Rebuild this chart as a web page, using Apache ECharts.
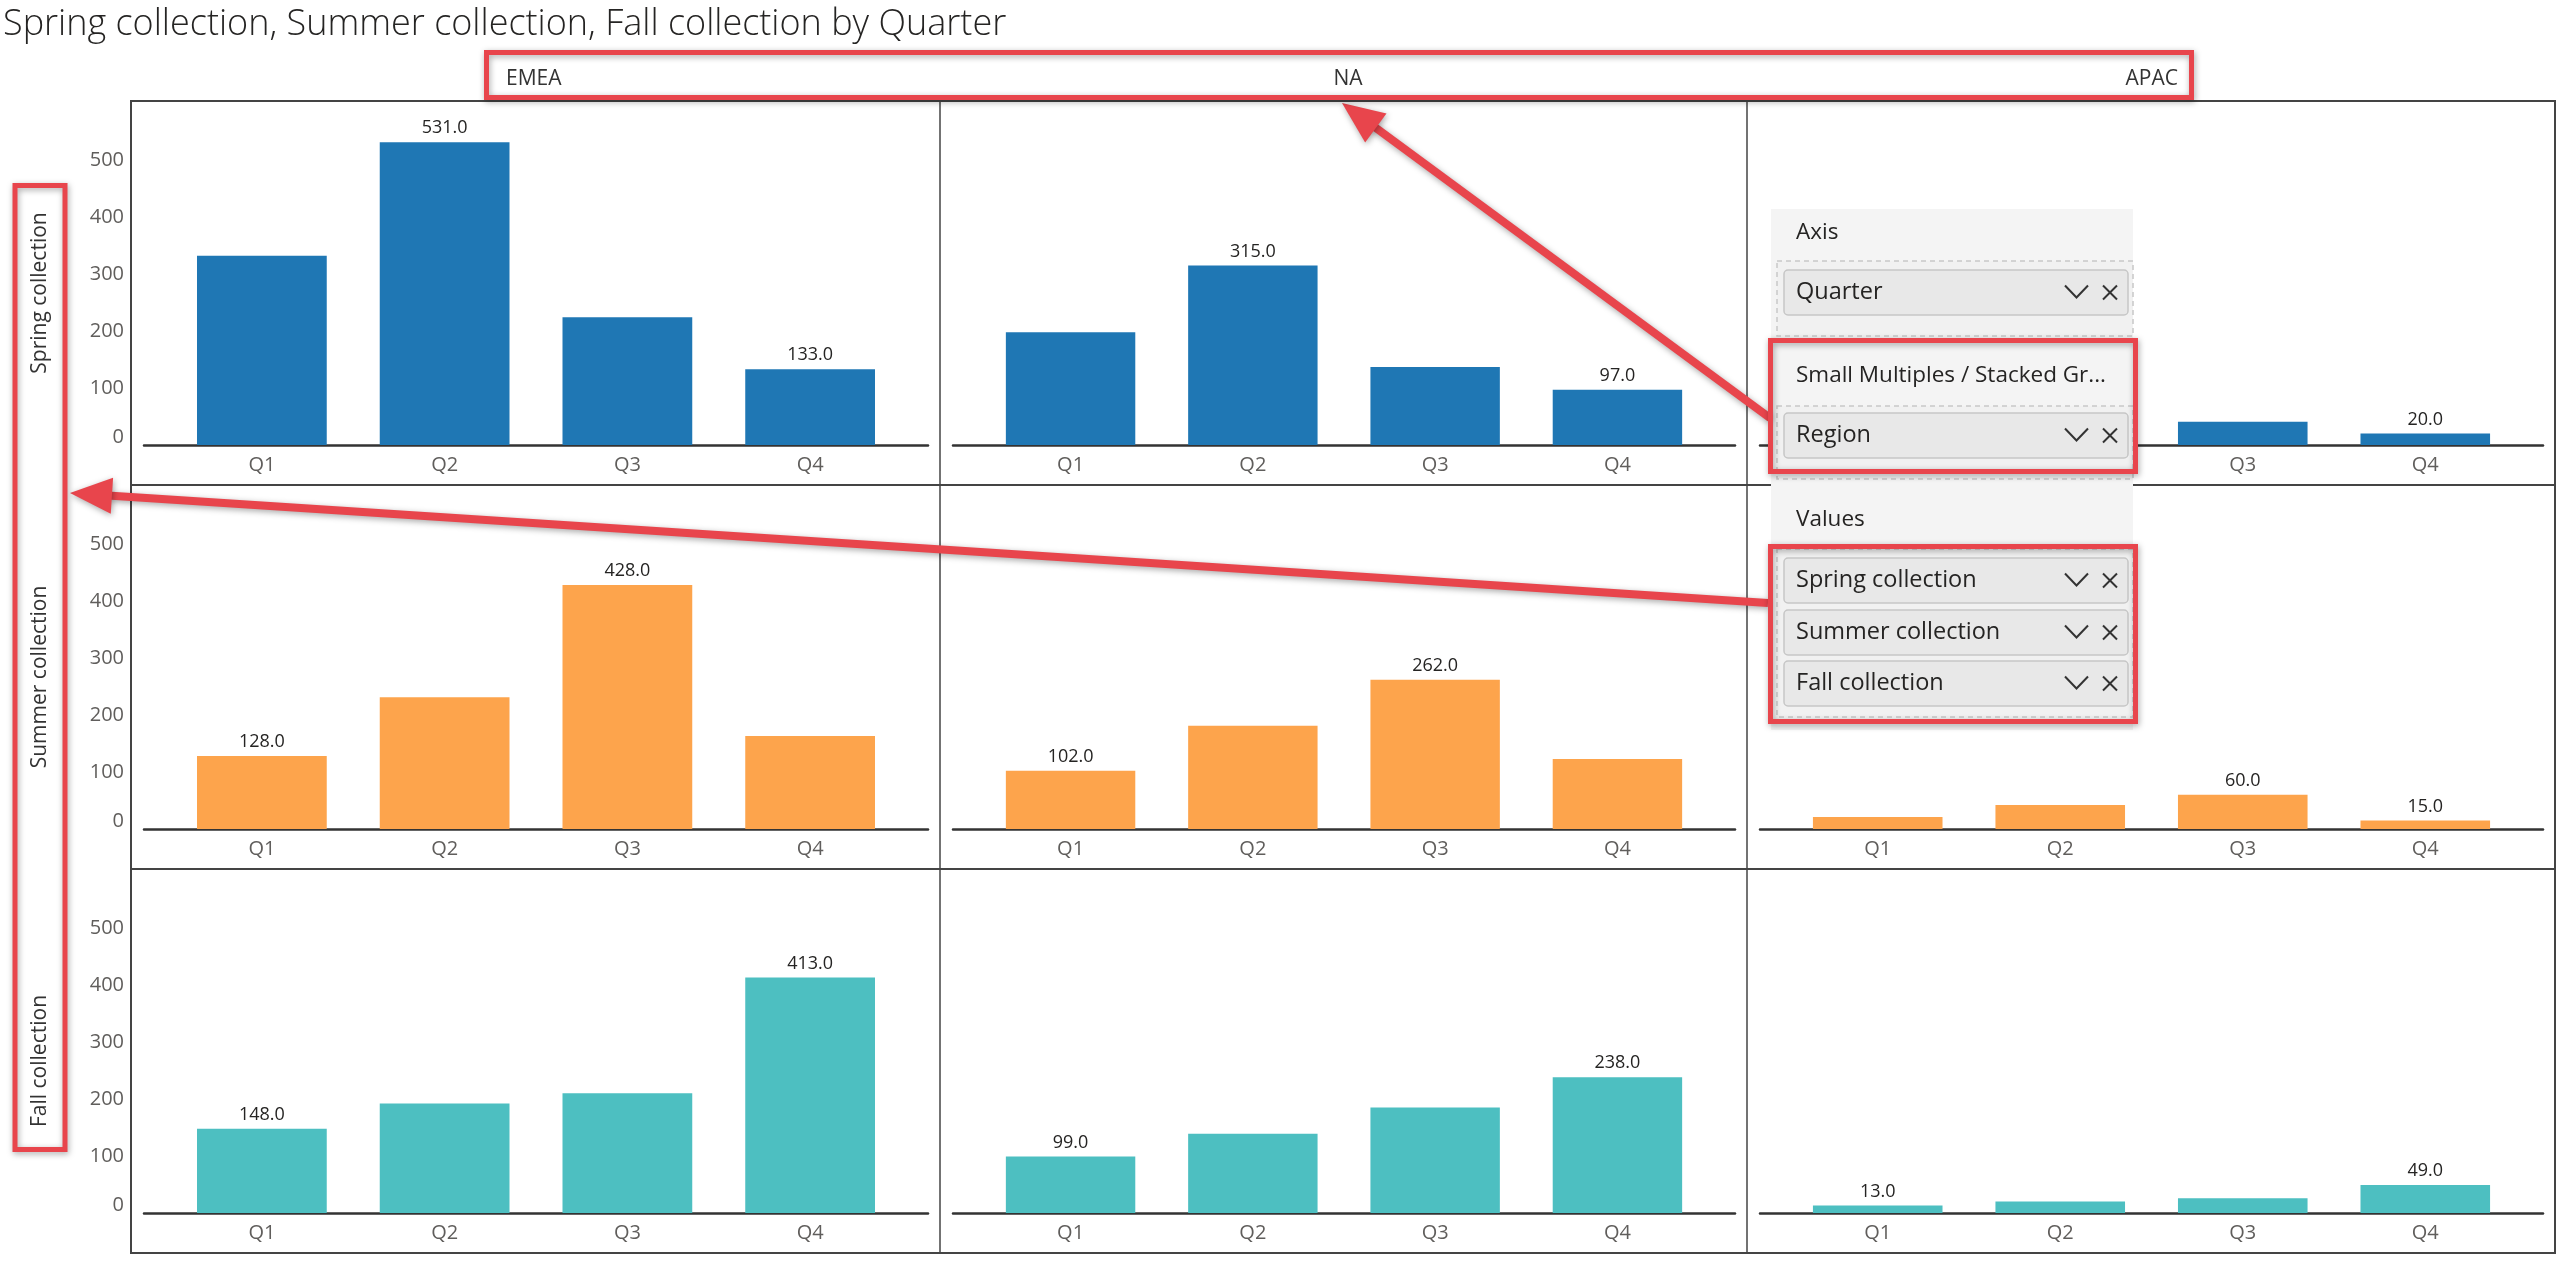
<!DOCTYPE html>
<html><head><meta charset="utf-8">
<script src="https://cdn.jsdelivr.net/npm/echarts@6/dist/echarts.min.js"></script>
<style>html,body{margin:0;padding:0;background:#fff}#c{width:2560px;height:1264px}</style>
</head><body><div id="c"></div>
<script>
// ---------- data ----------
const quarters = ['Q1', 'Q2', 'Q3', 'Q4'];
const regions = ['EMEA', 'NA', 'APAC'];
const collections = ['Spring collection', 'Summer collection', 'Fall collection'];
const yTicks = [0, 100, 200, 300, 400, 500];
const springEMEA = [332, 531, 224, 133];
const springNA = [198, 315, 137, 97];
const springAPAC = [35, 52, 41, 20];
const summerEMEA = [128, 231, 428, 163];
const summerNA = [102, 181, 262, 123];
const summerAPAC = [21, 42, 60, 15];
const fallEMEA = [148, 192, 210, 413];
const fallNA = [99, 139, 185, 238];
const fallAPAC = [13, 20, 26, 49];
const fieldWells = ['Axis', 'Small Multiples / Stacked Gr...', 'Values'];
const wellAxis = ['Quarter'];
const wellSmall = ['Region'];
const wellValues = ['Spring collection', 'Summer collection', 'Fall collection'];
const titleText = 'Spring collection, Summer collection, Fall collection by Quarter';

// ---------- layout / style ----------
const FONT = '"Open Sans", "Noto Sans", sans-serif';
const colors = ['#1f77b4', '#fda44c', '#4dbfc1'];
const RED = '#e8454c';
const colX = [131, 940, 1747, 2555];
const rowY = [101, 485, 869, 1253];
const table = [
  [springEMEA, springNA, springAPAC],
  [summerEMEA, summerNA, summerAPAC],
  [fallEMEA, fallNA, fallAPAC]
];

const grids = [], xAxes = [], yAxes = [], series = [];
let idx = 0;
for (let r = 0; r < 3; r++) {
  for (let c = 0; c < 3; c++) {
    const left = colX[c] + 13;
    const width = colX[c + 1] - colX[c] - 25;
    grids.push({ left: left, top: rowY[r] + 2, width: width, height: 342 });
    xAxes.push({
      type: 'value', gridIndex: idx, min: -0.645, max: 3.645,
      splitLine: { show: false },
      axisTick: { show: false },
      axisLine: { show: true, onZero: false, lineStyle: { color: '#333', width: 2.5 } },
      axisLabel: {
        customValues: [0, 1, 2, 3],
        formatter: v => quarters[Math.round(v)],
        fontFamily: FONT, fontSize: 20, color: '#605e5c', margin: 10
      }
    });
    yAxes.push({
      type: 'value', gridIndex: idx, min: 0, max: 600, interval: 100,
      splitLine: { show: false }, axisLine: { show: false }, axisTick: { show: false },
      axisLabel: {
        show: c === 0, margin: 20,
        formatter: v => (v > yTicks[yTicks.length - 1] ? '' : (v === 0 ? '{z|0}' : String(v))),
        fontFamily: FONT, fontSize: 20, color: '#605e5c',
        rich: { z: { fontFamily: FONT, fontSize: 20, color: '#605e5c', padding: [0, 0, 16, 0] } }
      }
    });
    const vals = table[r][c];
    const mx = Math.max.apply(null, vals), mn = Math.min.apply(null, vals);
    series.push({
      type: 'bar', xAxisIndex: idx, yAxisIndex: idx,
      barWidth: '71%',
      itemStyle: { color: colors[r] },
      label: {
        show: false, position: 'top', distance: 5,
        formatter: p => p.value[1].toFixed(1),
        fontFamily: FONT, fontSize: 18, color: '#252423'
      },
      data: vals.map((v, k) => ({ value: [k, v], label: { show: v === mx || v === mn } }))
    });
    idx++;
  }
}

// ---------- graphic elements ----------
const g = [];
// title
g.push({ type: 'text', x: 3, y: 25, style: { text: titleText, fontFamily: FONT, fontSize: 36, fontWeight: 300, fill: '#252423', align: 'left', verticalAlign: 'middle' } });
// frame
g.push({ type: 'rect', shape: { x: colX[0], y: rowY[0], width: colX[3] - colX[0], height: rowY[3] - rowY[0] }, style: { fill: 'none', stroke: '#444', lineWidth: 2 }, z: 1 });
[colX[1], colX[2]].forEach(x => g.push({ type: 'line', shape: { x1: x, y1: rowY[0], x2: x, y2: rowY[3] }, style: { stroke: '#444', lineWidth: 1.5 }, z: 1 }));
[rowY[1], rowY[2]].forEach(y => g.push({ type: 'line', shape: { x1: colX[0], y1: y, x2: colX[3], y2: y }, style: { stroke: '#444', lineWidth: 2 }, z: 1 }));
// column headers
const hdrX = [506, 1348, 2178], hdrAlign = ['left', 'center', 'right'];
regions.forEach((t, i) => g.push({ type: 'text', x: hdrX[i], y: 79, style: { text: t, fontFamily: FONT, fontSize: 21, fill: '#333', align: hdrAlign[i], verticalAlign: 'middle' } }));
// row labels
collections.forEach((t, i) => g.push({ type: 'text', x: 40, y: (rowY[i] + rowY[i + 1]) / 2, rotation: Math.PI / 2, style: { text: t, fontFamily: FONT, fontSize: 21, fill: '#333', align: 'center', verticalAlign: 'middle' } }));

// field well pane
const Z = 50;
g.push({ type: 'rect', shape: { x: 1771, y: 209, width: 362, height: 521 }, style: { fill: '#f4f4f4' }, z: Z });
[[261, 75], [406, 73], [549, 168]].forEach(w => g.push({ type: 'rect', shape: { x: 1777, y: w[0], width: 356, height: w[1] }, style: { fill: '#f1f1f1', stroke: '#c8c8c8', lineWidth: 1.5, lineDash: [5, 4] }, z: Z + 1 }));
const headY = [233, 376, 520];
fieldWells.forEach((t, i) => g.push({ type: 'text', x: 1796, y: headY[i], style: { text: t, fontFamily: FONT, fontSize: 22.5, fill: '#252423', align: 'left', verticalAlign: 'middle' }, z: Z + 2 }));
const pillItems = wellAxis.concat(wellSmall, wellValues);
const pillTop = [270, 413, 558, 610, 661];
pillItems.forEach((t, i) => {
  const y = pillTop[i], cy = y + 22.5;
  g.push({ type: 'rect', shape: { x: 1784, y: y, width: 344, height: 45, r: 4 }, style: { fill: '#e8e8e8', stroke: '#c6c6c6', lineWidth: 1.5 }, z: Z + 2 });
  g.push({ type: 'text', x: 1796, y: cy, style: { text: t, fontFamily: FONT, fontSize: 23.5, fill: '#252423', align: 'left', verticalAlign: 'middle' }, z: Z + 3 });
  g.push({ type: 'polyline', shape: { points: [[2065, cy - 7], [2076.5, cy + 5], [2088, cy - 7]] }, style: { stroke: '#333', lineWidth: 2, fill: 'none' }, z: Z + 3 });
  g.push({ type: 'line', shape: { x1: 2103, y1: cy - 7, x2: 2117, y2: cy + 7 }, style: { stroke: '#333', lineWidth: 2 }, z: Z + 3 });
  g.push({ type: 'line', shape: { x1: 2117, y1: cy - 7, x2: 2103, y2: cy + 7 }, style: { stroke: '#333', lineWidth: 2 }, z: Z + 3 });
});

// red annotation boxes
const shadow = { shadowBlur: 6, shadowColor: 'rgba(0,0,0,0.35)', shadowOffsetX: 1, shadowOffsetY: 2 };
const redBoxes = [[486.5, 52.5, 1705, 45], [15, 185.5, 50, 964], [1770.5, 340.5, 365, 131], [1770.5, 546.5, 365, 175]];
redBoxes.forEach(b => g.push({ type: 'rect', shape: { x: b[0], y: b[1], width: b[2], height: b[3] }, style: Object.assign({ fill: 'none', stroke: RED, lineWidth: 5 }, shadow), z: Z + 10 }));

// arrows
function arrow(tip, tail) {
  const dx = tip[0] - tail[0], dy = tip[1] - tail[1];
  const L = Math.sqrt(dx * dx + dy * dy), ux = dx / L, uy = dy / L;
  const hl = 42, hw = 18;
  const bx = tip[0] - ux * hl, by = tip[1] - uy * hl;
  g.push({ type: 'line', shape: { x1: tail[0], y1: tail[1], x2: bx + ux * 4, y2: by + uy * 4 }, style: Object.assign({ stroke: RED, lineWidth: 8 }, shadow), z: Z + 9 });
  g.push({ type: 'polygon', shape: { points: [tip, [bx - uy * hw, by + ux * hw], [bx + uy * hw, by - ux * hw]] }, style: Object.assign({ fill: RED }, shadow), z: Z + 9 });
}
arrow([1342, 103], [1770, 418]);
arrow([70, 493], [1768, 603]);

const chart = echarts.init(document.getElementById('c'), null, { renderer: 'canvas' });
chart.setOption({
  animation: false,
  backgroundColor: '#fff',
  grid: grids, xAxis: xAxes, yAxis: yAxes, series: series,
  graphic: { elements: g }
});
</script></body></html>
